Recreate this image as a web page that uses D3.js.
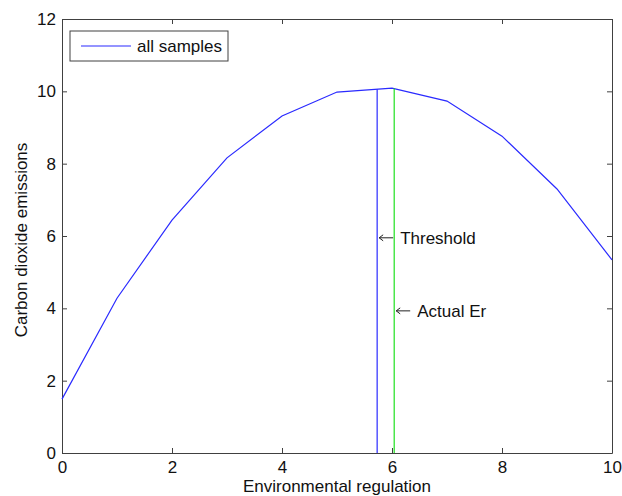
<!DOCTYPE html>
<html lang="en">
<head>
<meta charset="UTF-8">
<title>Carbon dioxide emissions</title>
<style>
  body { margin: 0; background: #fff; }
  text { font-family: "Liberation Sans", Arial, sans-serif; }
</style>
</head>
<body>
<svg id="chart" width="622" height="496"></svg>
<script src="https://d3js.org/d3.v7.min.js"></script>
<script>
// data
var erValues = [0, 1, 2, 3, 4, 5, 6, 7, 8, 9, 10];
var co2Values = [1.49, 4.28, 6.44, 8.16, 9.32, 9.98, 10.09, 9.73, 8.76, 7.3, 5.34];
var xTicks = [0, 2, 4, 6, 8, 10];
var yTicks = [0, 2, 4, 6, 8, 10, 12];
var thresholdEr = 5.73;
var actualEr = 6.04;

var margin = {top: 19, right: 10, bottom: 43, left: 62},
    width = 622 - margin.left - margin.right,
    height = 496 - margin.top - margin.bottom;

var FONT = "17px";

var svg = d3.select("#chart")
  .append("g")
  .attr("transform", "translate(" + margin.left + "," + margin.top + ")");

var x = d3.scaleLinear().domain([0, 10]).range([0, width]);
var y = d3.scaleLinear().domain([0, 12]).range([height, 0]);

// value of the curve at a given x (linear between samples)
function curveAt(v) {
  var i = Math.min(Math.floor(v), erValues.length - 2);
  var t = v - erValues[i];
  return co2Values[i] + t * (co2Values[i + 1] - co2Values[i]);
}

// axes, ticks pointing inward like matlab
function styleAxis(g) {
  g.select(".domain").attr("stroke", "#404040");
  g.selectAll(".tick line").attr("stroke", "#404040");
  g.selectAll(".tick text").attr("font-size", FONT).attr("fill", "#111")
    .attr("font-family", "Liberation Sans, Arial, sans-serif");
}

svg.append("g")
  .attr("transform", "translate(0," + height + ")")
  .call(d3.axisBottom(x).tickValues(xTicks).tickSize(-5).tickPadding(8).tickSizeOuter(0))
  .call(styleAxis);

svg.append("g")
  .call(d3.axisTop(x).tickValues(xTicks).tickSize(-5).tickFormat("").tickSizeOuter(0))
  .call(styleAxis);

svg.append("g")
  .call(d3.axisLeft(y).tickValues(yTicks).tickSize(-5).tickPadding(6).tickSizeOuter(0))
  .call(styleAxis);

svg.append("g")
  .attr("transform", "translate(" + width + ",0)")
  .call(d3.axisRight(y).tickValues(yTicks).tickSize(-5).tickFormat("").tickSizeOuter(0))
  .call(styleAxis);

// main curve
var line = d3.line()
  .x(function(d, i) { return x(erValues[i]); })
  .y(function(d) { return y(d); });

svg.append("path")
  .datum(co2Values)
  .attr("fill", "none")
  .attr("stroke", "#2a2aff")
  .attr("stroke-width", 1.2)
  .attr("d", line);

// vertical markers
svg.append("line")
  .attr("x1", x(thresholdEr)).attr("x2", x(thresholdEr))
  .attr("y1", y(0)).attr("y2", y(curveAt(thresholdEr)))
  .attr("stroke", "#2a2aff").attr("stroke-width", 1.2);

svg.append("line")
  .attr("x1", x(actualEr)).attr("x2", x(actualEr))
  .attr("y1", y(0)).attr("y2", y(curveAt(actualEr)))
  .attr("stroke", "#1fe01f").attr("stroke-width", 1.2);

// annotations (arrow + label)
function annotate(xv, yv, label) {
  var px = x(xv) + 2, py = y(yv);
  var g = svg.append("g");
  g.append("line").attr("x1", px).attr("x2", px + 14).attr("y1", py).attr("y2", py)
    .attr("stroke", "#222").attr("stroke-width", 1);
  g.append("path")
    .attr("d", "M" + (px + 4) + "," + (py - 3) + "L" + px + "," + py + "L" + (px + 4) + "," + (py + 3))
    .attr("fill", "none").attr("stroke", "#222").attr("stroke-width", 1);
  g.append("text").attr("x", px + 21).attr("y", py + 6)
    .attr("font-size", FONT).attr("fill", "#111").text(label);
}
annotate(thresholdEr, 5.95, "Threshold");
annotate(actualEr, 3.93, "Actual Er");

// axis labels
svg.append("text")
  .attr("x", width / 2).attr("y", height + 39)
  .attr("text-anchor", "middle").attr("font-size", FONT).attr("fill", "#111")
  .text("Environmental regulation");

svg.append("text")
  .attr("transform", "translate(-35," + (height / 2 + 4) + ") rotate(-90)")
  .attr("text-anchor", "middle").attr("font-size", FONT).attr("fill", "#111")
  .text("Carbon dioxide emissions");

// legend
var legend = svg.append("g").attr("transform", "translate(8,12)");
legend.append("rect")
  .attr("width", 158).attr("height", 30)
  .attr("fill", "#fff").attr("stroke", "#404040");
legend.append("line")
  .attr("x1", 11).attr("x2", 61).attr("y1", 15).attr("y2", 15)
  .attr("stroke", "#2a2aff").attr("stroke-width", 1.2);
legend.append("text")
  .attr("x", 67).attr("y", 21)
  .attr("font-size", FONT).attr("fill", "#111")
  .text("all samples");
</script>
</body>
</html>
